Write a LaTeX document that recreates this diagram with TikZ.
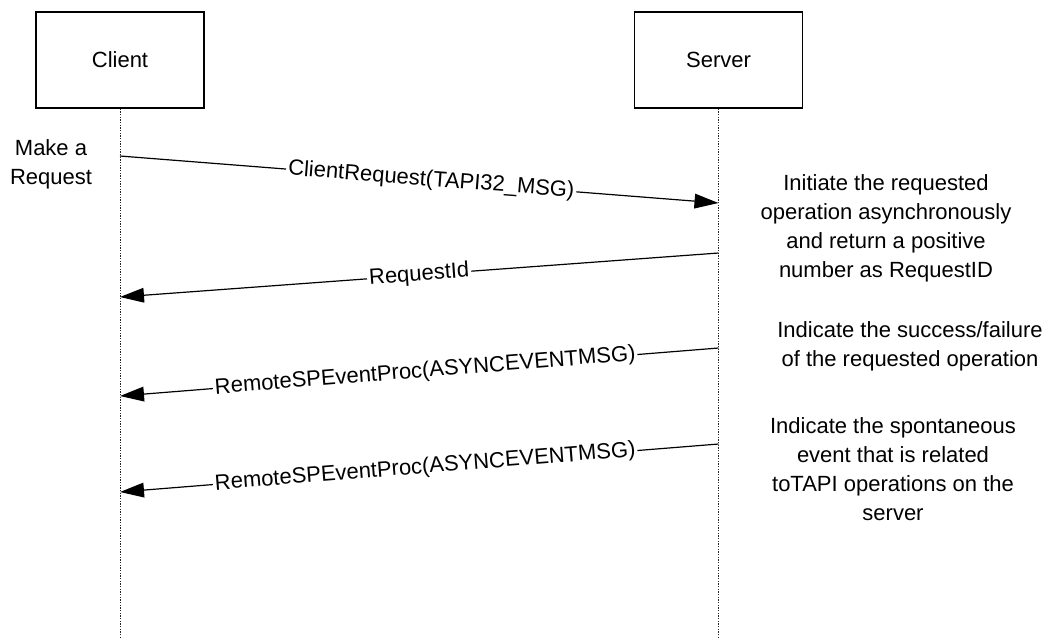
\documentclass[tikz,border=0pt]{standalone}
\usepackage{fontspec}
\setmainfont{Liberation Sans}
\usetikzlibrary{arrows.meta}
\tikzset{
  lifebox/.style={draw, line width=1pt, minimum width=126pt, minimum height=72pt, inner sep=0pt},
  lifeline/.style={dash pattern=on 0.9pt off 1.1pt, line width=0.7pt, black!85},
  msg/.style={line width=0.9pt, -{Triangle[length=18pt,width=11pt]}},
  msglabel/.style={fill=white, inner sep=1.5pt, sloped, midway},
  note/.style={align=center}
}
\begin{document}
\begin{tikzpicture}[x=0.75pt,y=-0.75pt,font=\fontsize{16.5}{21.75}\selectfont]
        \useasboundingbox (0,0) rectangle (1057,637);
        % the two parties
        \node[lifebox] (client) at (120,60) {Client};
        \node[lifebox] (server) at (718.5,60) {Server};
        \coordinate (clientend) at (120,637);
        \coordinate (serverend) at (718.5,637);
        \draw[lifeline] (client.south) -- (clientend);
        \draw[lifeline] (server.south) -- (serverend);
        % ends of the messages on the lifelines
        \coordinate (c1) at (120,156);
        \coordinate (s1) at (718.5,203);
        \coordinate (s2) at (718.5,253);
        \coordinate (c2) at (120,297);
        \coordinate (s3) at (718.5,348);
        \coordinate (c3) at (120,396);
        \coordinate (s4) at (718.5,444);
        \coordinate (c4) at (120,492);
        % messages
        \draw[msg] (c1) -- node[msglabel, pos=0.52] (request) {ClientRequest(TAPI32\_MSG)} (s1);
        \draw[msg] (s2) -- node[msglabel] (requestid) {RequestId} (c2);
        \draw[msg] (s3) -- node[msglabel, pos=0.49] (result) {RemoteSPEventProc(ASYNCEVENTMSG)} (c3);
        \draw[msg] (s4) -- node[msglabel, pos=0.49] (event) {RemoteSPEventProc(ASYNCEVENTMSG)} (c4);
        % notes
        \node[note] (makereq) at (51,164) {Make a\\Request};
        \node[note] (initnote) at (886,228) {Initiate the requested\\operation asynchronously\\and return a positive\\number as RequestID};
        \node[note] (resultnote) at (910,346) {Indicate the success/failure\\of the requested operation};
        \node[note] (eventnote) at (893,469) {Indicate the spontaneous\\event that is related\\toTAPI operations on the\\server};
    \end{tikzpicture}
\end{document}
